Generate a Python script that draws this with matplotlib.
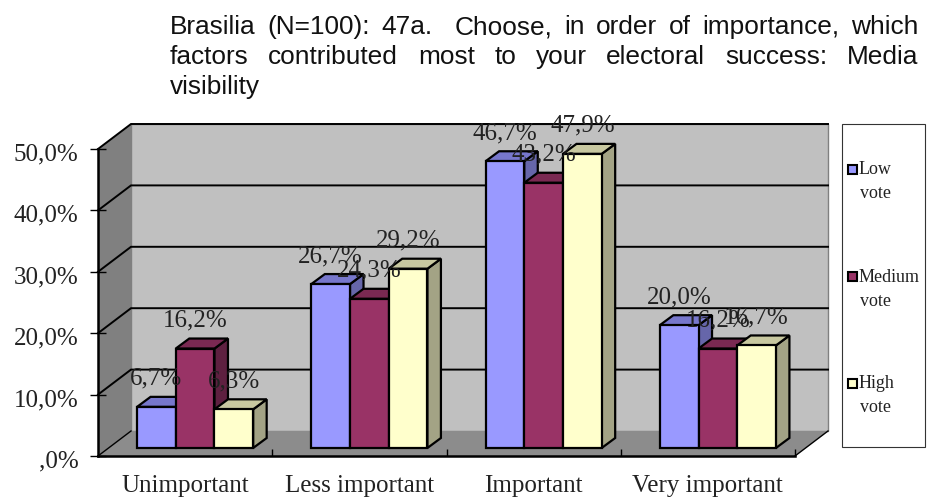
import matplotlib
matplotlib.use('Agg')
import matplotlib.pyplot as plt
from matplotlib.patches import Polygon, Rectangle
from matplotlib.transforms import ScaledTranslation

categories = ['Unimportant', 'Less important', 'Important', 'Very important']
low_vote = [6.7, 26.7, 46.7, 20.0]
medium_vote = [16.2, 24.3, 43.2, 16.2]
high_vote = [6.3, 29.2, 47.9, 16.7]
series_names = ['Low\nvote', 'Medium\nvote', 'High\nvote']
y_ticks = [0, 10, 20, 30, 40, 50]
y_labels = [',0%', '10,0%', '20,0%', '30,0%', '40,0%', '50,0%']
title_lines = ['Brasilia (N=100): 47a.  Choose, in order of importance, which',
               'factors contributed most to your electoral success: Media',
               'visibility']

W, H = 936, 497
LEFT, RIGHT, BOTTOM, TOP = 98, 795, 456, 149
CAT_PX = (RIGHT - LEFT) / 4
VAL_PX = (BOTTOM - TOP) / 50

# depth of the box and of the bars, in data units
WALL_DX = 33 / CAT_PX
WALL_DY = 25 / VAL_PX
BAR_DX = 13.5 / CAT_PX
BAR_DY = 10 / VAL_PX
BAR_W = 38.7 / CAT_PX
BAR_BASE = 8 / VAL_PX
BAR_SHIFT = 10 / CAT_PX

colors = [('#9999FF', '#7777CC', '#6666AA'),
          ('#993366', '#7A2952', '#5E2040'),
          ('#FFFFCC', '#C8C8A0', '#A3A385')]

fig = plt.figure(figsize=(W / 100, H / 100), dpi=100)
ax = fig.add_axes([LEFT / W, 1 - BOTTOM / H, (RIGHT - LEFT) / W, (BOTTOM - TOP) / H])
ax.set_xlim(0, 4)
ax.set_ylim(0, 50)
ax.patch.set_visible(False)
serif = 'Liberation Serif'


def poly(points, color, edge='black', lw=1.6, z=2):
    ax.add_patch(Polygon(points, closed=True, facecolor=color, edgecolor=edge,
                         linewidth=lw, zorder=z, clip_on=False, joinstyle='miter'))


# walls and floor
poly([(WALL_DX, WALL_DY), (4 + WALL_DX, WALL_DY), (4 + WALL_DX, 50 + WALL_DY), (WALL_DX, 50 + WALL_DY)],
     '#C0C0C0', edge='#808080', lw=1.0, z=1)
poly([(0, 0), (WALL_DX, WALL_DY), (WALL_DX, 50 + WALL_DY), (0, 50)], '#808080', edge='none', z=1)
poly([(0, 0), (4, 0), (4 + WALL_DX, WALL_DY), (WALL_DX, WALL_DY)], '#8C8C8C', edge='none', z=1)

# gridlines run along the side wall and the back wall
for v in y_ticks[1:]:
    ax.plot([0, WALL_DX, 4 + WALL_DX], [v, v + WALL_DY, v + WALL_DY], color='black',
            lw=1.4, zorder=1.5, clip_on=False, solid_joinstyle='miter')
ax.plot([0, WALL_DX], [0, WALL_DY], color='black', lw=1.0, zorder=1.5, clip_on=False)
ax.plot([4, 4 + WALL_DX], [0, WALL_DY], color='black', lw=1.0, zorder=1.5, clip_on=False)

# bars
all_series = [low_vote, medium_vote, high_vote]
for c in range(len(categories)):
    for s, values in enumerate(all_series):
        v = values[c]
        x0 = c + 0.5 + BAR_SHIFT + (s - 1.5) * BAR_W
        x1 = x0 + BAR_W
        y0 = BAR_BASE
        y1 = BAR_BASE + v
        front, top, side = colors[s]
        poly([(x1, y0), (x1 + BAR_DX, y0 + BAR_DY), (x1 + BAR_DX, y1 + BAR_DY), (x1, y1)], side, z=3)
        poly([(x0, y1), (x1, y1), (x1 + BAR_DX, y1 + BAR_DY), (x0 + BAR_DX, y1 + BAR_DY)], top, z=3)
        poly([(x0, y0), (x1, y0), (x1, y1), (x0, y1)], front, z=3)

# value labels go over every bar
for c in range(len(categories)):
    for s, values in enumerate(all_series):
        v = values[c]
        x = c + 0.5 + BAR_SHIFT + (s - 1) * BAR_W
        ax.text(x, BAR_BASE + v + 28 / VAL_PX, f'{v:.1f}%'.replace('.', ','), ha='center', va='center',
                family=serif, fontsize=18, color='#222222', zorder=5, clip_on=False)

# axes
for name in ['top', 'right']:
    ax.spines[name].set_visible(False)
for name in ['left', 'bottom']:
    ax.spines[name].set_linewidth(1.8)
    ax.spines[name].set_zorder(4)
ax.set_yticks(y_ticks)
ax.set_yticklabels(y_labels, family=serif, fontsize=18, color='#222222')
ax.tick_params(axis='y', direction='inout', length=11, width=1.0, pad=8.5)
shift_down = ScaledTranslation(0, -3 / 100, fig.dpi_scale_trans)
for label in ax.get_yticklabels():
    label.set_transform(label.get_transform() + shift_down)
ax.set_xticks([0.5, 1.5, 2.5, 3.5])
ax.set_xticklabels(categories, family=serif, fontsize=18, color='#222222')
ax.set_xticks([1, 2, 3, 4], minor=True)
ax.tick_params(axis='x', which='major', length=0, pad=14)
ax.tick_params(axis='x', which='minor', direction='in', length=5, width=1.0)


def fig_xy(px, py):
    return px / W, 1 - py / H


# legend
fig.add_artist(Rectangle(fig_xy(842, 447), 83 / W, 323 / H, transform=fig.transFigure,
                         facecolor='white', edgecolor='#333333', linewidth=0.8))
legend_y = [169, 276, 383]
for s, name in enumerate(series_names):
    first, second = name.split('\n')
    y = legend_y[s]
    fig.add_artist(Rectangle(fig_xy(847.5, y + 4.5), 9 / W, 9 / H, transform=fig.transFigure,
                             facecolor=colors[s][0], edgecolor='black', linewidth=1.5))
    fig.text(*fig_xy(859, y + 1), first, family=serif, fontsize=13, color='#222222', va='center')
    fig.text(*fig_xy(860, y + 25), second, family=serif, fontsize=13, color='#222222', va='center')

# title, first two lines are justified
renderer = fig.canvas.get_renderer()
title_y = [34, 64, 94]
T_LEFT, T_RIGHT = 170, 918
for line, y in zip(title_lines, title_y):
    tokens = line.split(' ')
    texts = [fig.text(0, 1 - y / H, w, family='Liberation Sans', fontsize=18.9, color='#111111', va='baseline')
             if w else None for w in tokens]
    widths = [t.get_window_extent(renderer).width if t else 0 for t in texts]
    gap = 0 if len(tokens) == 1 else (T_RIGHT - T_LEFT - sum(widths)) / (len(tokens) - 1)
    x = T_LEFT
    for t, w in zip(texts, widths):
        if t:
            t.set_x(x / W)
        x += w + gap

fig.savefig('out.png', dpi=100)
